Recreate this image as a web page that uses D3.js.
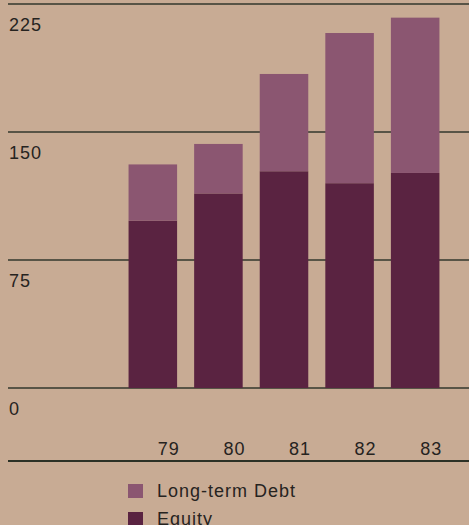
<!DOCTYPE html>
<html>
<head>
<meta charset="utf-8">
<script src="https://cdn.jsdelivr.net/npm/d3@7"></script>
<style>
  html, body { margin: 0; padding: 0; background: #c8ab94; }
  svg { display: block; }
  text { font-family: "Liberation Sans", Arial, Helvetica, sans-serif; fill: #26231f; }
</style>
</head>
<body>
<svg width="469" height="525"></svg>
<script>
// data
const years = ["79", "80", "81", "82", "83"];
const equity = [98, 114, 127, 120, 126];
const debt = [33, 29, 57, 88, 91];
const yTicks = [0, 75, 150, 225];
const seriesNames = ["Long-term Debt", "Equity"];

const colors = { debt: "#8b5671", equity: "#5a2341" };

var svg = d3.select("svg"),
    width = +svg.attr("width"),
    height = +svg.attr("height");

var rows = years.map(function(yr, i) {
  return { year: yr, equity: equity[i], debt: debt[i] };
});

var x = d3.scaleBand()
  .domain(years)
  .range([122, 446])
  .paddingInner(0.26)
  .paddingOuter(0.1);

var y = d3.scaleLinear()
  .domain([0, 225])
  .range([388, 4]);

// gridlines + labels
var grid = svg.append("g");
grid.selectAll("line")
  .data(yTicks)
  .enter().append("line")
  .attr("x1", 8).attr("x2", width)
  .attr("y1", function(d) { return y(d); })
  .attr("y2", function(d) { return y(d); })
  .attr("stroke", "#33372c")
  .attr("stroke-width", 1.6);

grid.selectAll("text")
  .data(yTicks)
  .enter().append("text")
  .attr("x", 9)
  .attr("y", function(d) { return y(d) + 27; })
  .attr("font-size", 18)
  .attr("letter-spacing", 1)
  .text(function(d) { return d; });

// stacked bars
var stack = d3.stack().keys(["equity", "debt"])(rows);

svg.append("g")
  .selectAll("g")
  .data(stack)
  .enter().append("g")
  .attr("fill", function(d) { return colors[d.key]; })
  .selectAll("rect")
  .data(function(d) { return d; })
  .enter().append("rect")
  .attr("x", function(d) { return x(d.data.year); })
  .attr("width", x.bandwidth())
  .attr("y", function(d) { return y(d[1]); })
  .attr("height", function(d) { return y(d[0]) - y(d[1]); });

// year labels
svg.append("g")
  .selectAll("text")
  .data(years)
  .enter().append("text")
  .attr("x", function(d) { return x(d) + x.bandwidth() / 2 + 16; })
  .attr("y", 455)
  .attr("text-anchor", "middle")
  .attr("font-size", 18)
  .attr("letter-spacing", 1)
  .text(function(d) { return d; });

// bottom rule
svg.append("line")
  .attr("x1", 8).attr("x2", width)
  .attr("y1", 461).attr("y2", 461)
  .attr("stroke", "#2c3126")
  .attr("stroke-width", 2.2);

// legend
var legend = svg.append("g")
  .selectAll("g")
  .data(seriesNames)
  .enter().append("g")
  .attr("transform", function(d, i) { return "translate(128," + (484 + i * 28) + ")"; });

legend.append("rect")
  .attr("width", 15).attr("height", 14)
  .attr("fill", function(d, i) { return i == 0 ? colors.debt : colors.equity; });

legend.append("text")
  .attr("x", 29)
  .attr("y", 13)
  .attr("font-size", 18)
  .attr("letter-spacing", 1)
  .text(function(d) { return d; });
</script>
</body>
</html>
